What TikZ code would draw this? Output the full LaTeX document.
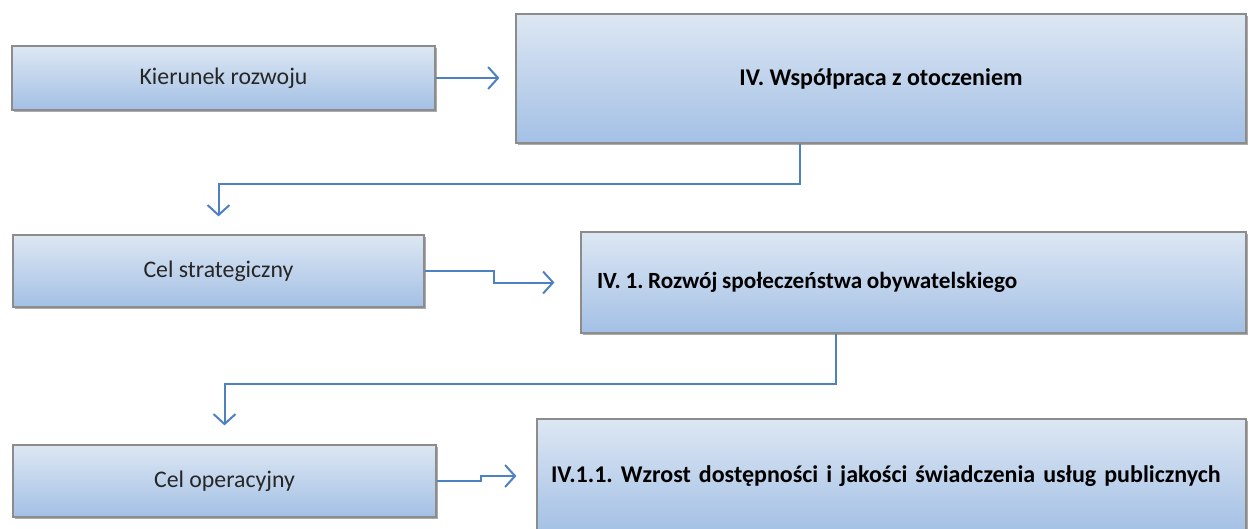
\documentclass[tikz,border=0pt]{standalone}
\usepackage{fontspec}
\setmainfont{Carlito}
\usepackage{tikz}
\usetikzlibrary{arrows.meta,shadows}

\definecolor{boxtop}{HTML}{DDE7F3}
\definecolor{boxbot}{HTML}{A3C0E5}
\definecolor{arrblue}{HTML}{4E81C0}

\frenchspacing
\newcommand{\tightspace}{\spaceskip=0.2em plus 0.1em\relax}
\begin{document}
\begin{tikzpicture}[x=0.5pt, y=-0.5pt,
    box/.style={draw=black!45, line width=0.6pt, top color=boxtop, bottom color=boxbot,
      drop shadow={shadow xshift=1pt, shadow yshift=-1.2pt, fill=black!60, opacity=0.55},
      inner sep=0pt, font=\fontsize{11.9}{14}\selectfont, text=black!85},
    boldbox/.style={box, font=\fontsize{12}{14}\selectfont\bfseries, text=black},
    arr/.style={arrblue, line width=1pt, -{Straight Barb[length=5pt, width=11pt, line width=1pt]}}]
    \useasboundingbox (0,0) rectangle (1251,529);

    \node[box, minimum width=211.5pt, minimum height=32pt] (kier) at (223.5,78) {Kierunek rozwoju};
    \node[boldbox, minimum width=365pt, minimum height=64.5pt] (wspol) at (881,78.5) {IV. Współpraca z otoczeniem};

    \node[box, minimum width=205.5pt, minimum height=36pt] (celstr) at (218.5,271) {Cel strategiczny};
    \node[boldbox, minimum width=332.5pt, minimum height=50.5pt, text width=316.5pt, inner xsep=8pt, align=left,
      font=\fontsize{11.6}{14}\selectfont\bfseries]
      (rozwoj) at (913.5,282.5) {\tightspace IV. 1. Rozwój społeczeństwa obywatelskiego};

    \node[box, minimum width=211.5pt, minimum height=36pt] (celop) at (224.5,481) {Cel operacyjny};
    \node[boldbox, minimum width=354.5pt, minimum height=57pt, text width=340.5pt, inner xsep=7pt, align=left]
      (wzrost) at (891.5,476) {IV.1.1. Wzrost dostępności i jakości świadczenia usług publicznych};

    \draw[arr, shorten >=8pt] (kier.east) -- (kier.east -| wspol.west);
    \draw[arr, shorten >=9pt] ([xshift=-40.5pt]wspol.south) -- ++(0,-20pt) -| (celstr.north);
    \draw[arr, shorten >=13pt] (celstr.east) -- ++(34.5pt,0) |- (rozwoj.west);
    \draw[arr, shorten >=9.5pt] ([xshift=-38.75pt]rozwoj.south) -- ++(0,-25pt) -| (celop.north);
    \draw[arr, shorten >=10pt] (celop.east) -- ++(22pt,0) |- (wzrost.west);
\end{tikzpicture}
\end{document}
